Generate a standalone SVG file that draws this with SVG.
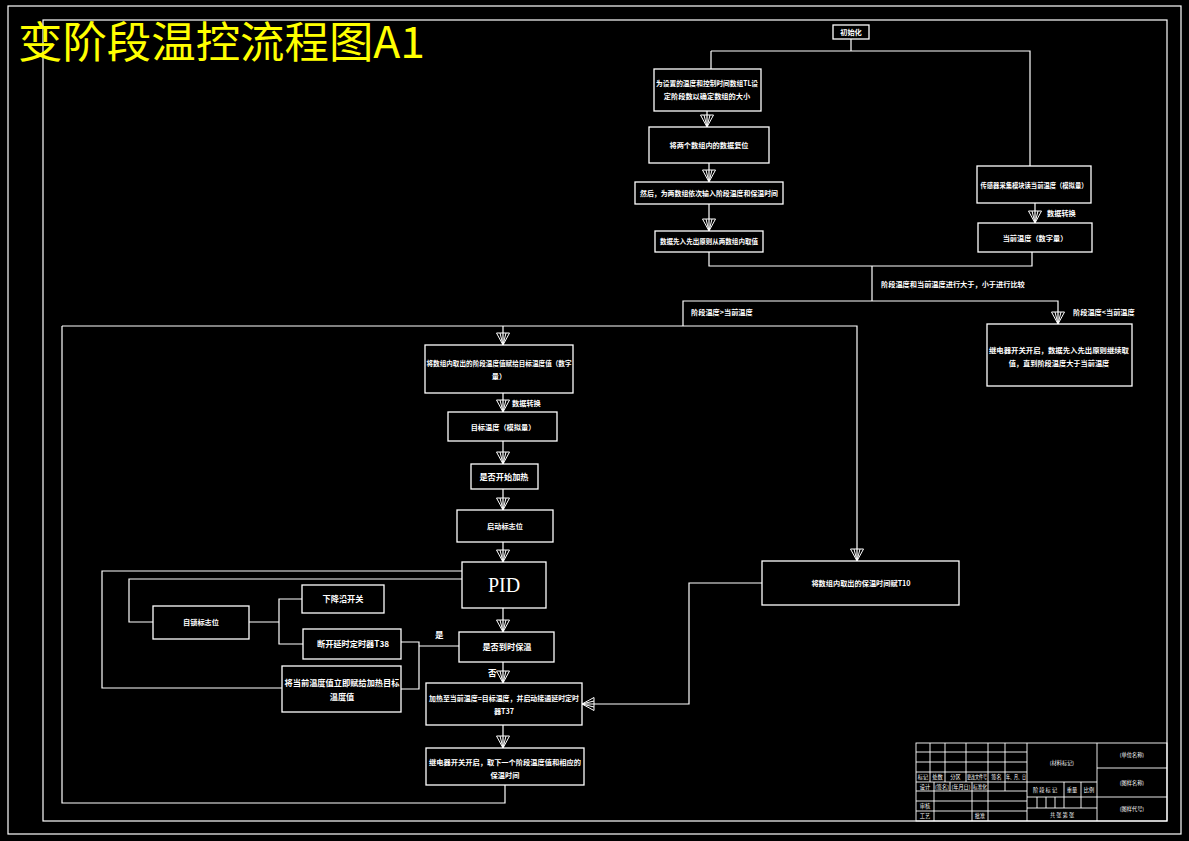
<svg xmlns="http://www.w3.org/2000/svg" width="1189" height="841" viewBox="0 0 1189 841">
<style>
.bx{fill:none;stroke:#fff;stroke-width:1.3}
.ln{fill:none;stroke:#fff;stroke-width:1.2}
.tb{fill:none;stroke:#fff;stroke-width:0.9}
text{fill:#fff;font-family:"Noto Sans CJK SC","Noto Sans",sans-serif;font-weight:bold}
.t{font-size:7.2px;text-anchor:middle}
.t8{font-size:8.2px;text-anchor:middle}
.lb{font-size:7.2px}
.s{font-size:5.2px;text-anchor:middle;font-weight:normal}
</style>
<defs>
<marker id="ar" markerUnits="userSpaceOnUse" markerWidth="16" markerHeight="16" viewBox="-14 -8 16 16" refX="0" refY="0" orient="auto">
<path d="M0,0 L-12,-6.5 L-12,6.5 Z M0,0 L-12,-3 M0,0 L-12,3" fill="none" stroke="#fff" stroke-width="1"/>
</marker>
</defs>
<rect width="1189" height="841" fill="#000"/>
<g id="frame">
<rect x="8" y="6" width="1173" height="828" class="ln"/>
<rect x="43" y="20" width="1124" height="801" class="ln"/>
</g>
<text id="title" x="18" y="58" textLength="407" lengthAdjust="spacingAndGlyphs" style="fill:#ff0;font-family:'Noto Sans CJK SC',serif;font-size:43px;font-weight:normal">变阶段温控流程图A1</text>

<g id="connectors">
<path class="ln" d="M851,39 V51 M711,51 H1030 V166 M711,51 V69"/>
<path class="ln" d="M707,111 V127" marker-end="url(#ar)"/>
<path class="ln" d="M709,163 V182" marker-end="url(#ar)"/>
<path class="ln" d="M709,204 V231" marker-end="url(#ar)"/>
<path class="ln" d="M709,252 V266 H1032 V252 M872,266 V301"/>
<path class="ln" d="M1035,203 V223" marker-end="url(#ar)"/>
<path class="ln" d="M683,326 V301 H1058 V324" marker-end="url(#ar)"/>
<path class="ln" d="M62,326 H857 V561" marker-end="url(#ar)"/>
<path class="ln" d="M503,326 V345" marker-end="url(#ar)"/>
<path class="ln" d="M503,393 V412" marker-end="url(#ar)"/>
<path class="ln" d="M503,441 V464" marker-end="url(#ar)"/>
<path class="ln" d="M503,489 V510" marker-end="url(#ar)"/>
<path class="ln" d="M503,542 V562" marker-end="url(#ar)"/>
<path class="ln" d="M503,608 V632" marker-end="url(#ar)"/>
<path class="ln" d="M503,662 V683" marker-end="url(#ar)"/>
<path class="ln" d="M503,725 V748" marker-end="url(#ar)"/>
<path class="ln" d="M505,785 V803 H62 V326"/>
<path class="ln" d="M762,583 H689 V704 H582" marker-end="url(#ar)"/>
<path class="ln" d="M462,571 H102 V688 H282"/>
<path class="ln" d="M462,579 H129 V622 H153"/>
<path class="ln" d="M249,622 H279 M302,599 H279 V644 H303"/>
<path class="ln" d="M401,642 H419 V689 H401 M419,646 H459"/>
</g>

<g id="labels">
<text class="lb" x="881" y="287">阶段温度和当前温度进行大于，小于进行比较</text>
<text class="lb" x="691" y="315">阶段温度&gt;当前温度</text>
<text class="lb" x="1073" y="315">阶段温度&lt;当前温度</text>
<text class="lb" x="1047" y="216">数据转换</text>
<text class="lb" x="512" y="406">数据转换</text>
<text class="lb" x="435" y="638" style="font-size:8.5px">是</text>
<text class="lb" x="488" y="676" style="font-size:8.5px">否</text>
</g>

<g id="n-init"><rect class="bx" x="833" y="25" width="36" height="14"/><text class="t" x="851" y="35">初始化</text></g>
<g id="n-a"><rect class="bx" x="654" y="69" width="107" height="42"/><text class="t" x="707" y="86" textLength="102" lengthAdjust="spacingAndGlyphs">为设置的温度和控制时间数组TL设</text><text class="t" x="707" y="99">定阶段数以确定数组的大小</text></g>
<g id="n-b"><rect class="bx" x="649" y="127" width="120" height="36"/><text class="t" x="709" y="148">将两个数组内的数据复位</text></g>
<g id="n-c"><rect class="bx" x="635" y="182" width="148" height="22"/><text class="t" x="709" y="196" textLength="138" lengthAdjust="spacingAndGlyphs">然后，为两数组依次输入阶段温度和保温时间</text></g>
<g id="n-d"><rect class="bx" x="655" y="231" width="108" height="21"/><text class="t" x="709" y="244" textLength="98" lengthAdjust="spacingAndGlyphs">数据先入先出原则从两数组内取值</text></g>
<g id="n-e"><rect class="bx" x="977" y="166" width="114" height="37"/><text class="t" x="1034" y="188" textLength="107" lengthAdjust="spacingAndGlyphs">传感器采集模块读当前温度（模拟量）</text></g>
<g id="n-f"><rect class="bx" x="978" y="223" width="114" height="29"/><text class="t" x="1035" y="241">当前温度（数字量）</text></g>
<g id="n-g"><rect class="bx" x="987" y="324" width="145" height="62"/><text class="t" x="1059" y="353" textLength="140" lengthAdjust="spacingAndGlyphs">继电器开关开启，数据先入先出原则继续取</text><text class="t" x="1059" y="366">值，直到阶段温度大于当前温度</text></g>
<g id="n-h"><rect class="bx" x="425" y="345" width="148" height="48"/><text class="t" x="499" y="366" textLength="145" lengthAdjust="spacingAndGlyphs">将数组内取出的阶段温度值赋给目标温度值（数字</text><text class="t" x="499" y="379">量）</text></g>
<g id="n-i"><rect class="bx" x="448" y="412" width="109" height="29"/><text class="t" x="503" y="430">目标温度（模拟量）</text></g>
<g id="n-j"><rect class="bx" x="471" y="464" width="67" height="25"/><text class="t8" x="504" y="480">是否开始加热</text></g>
<g id="n-k"><rect class="bx" x="457" y="510" width="96" height="32"/><text class="t" x="505" y="529">启动标志位</text></g>
<g id="n-pid"><rect class="bx" x="462" y="562" width="84" height="46"/><text x="504" y="592" style="font-family:'Liberation Serif',serif;font-size:20px;font-weight:normal;text-anchor:middle">PID</text></g>
<g id="n-l"><rect class="bx" x="153" y="606" width="96" height="33"/><text class="t" x="201" y="625">自锁标志位</text></g>
<g id="n-m"><rect class="bx" x="302" y="585" width="82" height="28"/><text class="t8" x="343" y="602">下降沿开关</text></g>
<g id="n-n"><rect class="bx" x="303" y="629" width="98" height="30"/><text class="t8" x="353" y="647">断开延时定时器T38</text></g>
<g id="n-o"><rect class="bx" x="282" y="666" width="119" height="46"/><text class="t8" x="342" y="686" textLength="115" lengthAdjust="spacingAndGlyphs">将当前温度值立即赋给加热目标</text><text class="t8" x="342" y="700">温度值</text></g>
<g id="n-p"><rect class="bx" x="459" y="632" width="95" height="30"/><text class="t8" x="507" y="650">是否到时保温</text></g>
<g id="n-q"><rect class="bx" x="426" y="683" width="156" height="42"/><text class="t" x="504" y="701" textLength="150" lengthAdjust="spacingAndGlyphs">加热至当前温度=目标温度，并启动接通延时定时</text><text class="t" x="504" y="714">器T37</text></g>
<g id="n-r"><rect class="bx" x="762" y="561" width="197" height="44"/><text class="t" x="861" y="586">将数组内取出的保温时间赋T10</text></g>
<g id="n-s"><rect class="bx" x="426" y="748" width="158" height="37"/><text class="t" x="505" y="765" textLength="152" lengthAdjust="spacingAndGlyphs">继电器开关开启，取下一个阶段温度值和相应的</text><text class="t" x="505" y="778">保温时间</text></g>

<g id="titleblock">
<rect class="tb" x="916" y="743" width="251" height="78"/>
<path class="tb" d="M1027,743 V821 M1097,743 V821 M916,752 H1027 M916,762 H1027 M916,772 H1027 M916,782 H1097 M916,791 H1027 M916,801 H1027 M916,811 H1027 M930,743 V782 M945,743 V782 M966,743 V782 M988,743 V821 M1005,743 V791 M934,782 V821 M950,782 V791 M972,782 V821 M1027,797 H1097 M1027,808 H1097 M1064,782 V808 M1081,782 V808 M1037,797 V808 M1046,797 V808 M1055,797 V808 M1097,768 H1167 M1097,797 H1167"/>
<text class="s" x="923" y="779">标记</text><text class="s" x="937.5" y="779">处数</text><text class="s" x="955.5" y="779">分区</text><text class="s" x="977" y="779" textLength="20" lengthAdjust="spacingAndGlyphs">更改文件号</text><text class="s" x="996.5" y="779">签名</text><text class="s" x="1016" y="779" textLength="20" lengthAdjust="spacingAndGlyphs">年、月、日</text>
<text class="s" x="925" y="789">设计</text><text class="s" x="942" y="789" textLength="14" lengthAdjust="spacingAndGlyphs">(签名)</text><text class="s" x="961" y="789" textLength="19" lengthAdjust="spacingAndGlyphs">(年月日)</text><text class="s" x="980" y="789" textLength="14" lengthAdjust="spacingAndGlyphs">标准化</text>
<text class="s" x="925" y="808">审核</text><text class="s" x="925" y="818">工艺</text><text class="s" x="980" y="818">批准</text>
<text class="s" x="1062" y="765">(材料标记)</text>
<text class="s" x="1045" y="792">阶 段 标 记</text><text class="s" x="1072" y="792">重量</text><text class="s" x="1089" y="792">比例</text>
<text class="s" x="1062" y="817">共    张    第    张</text>
<text class="s" x="1132" y="757">(单位名称)</text><text class="s" x="1132" y="785">(图样名称)</text><text class="s" x="1132" y="811">(图样代号)</text>
</g>
</svg>
